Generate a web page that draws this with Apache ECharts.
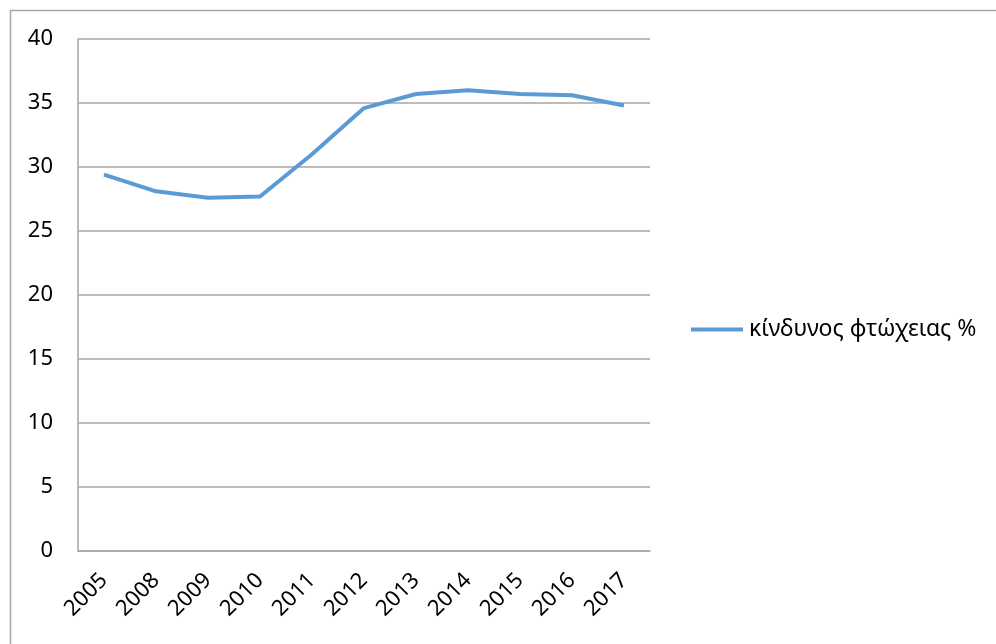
<!DOCTYPE html>
<html>
<head>
<meta charset="utf-8">
<script src="https://cdn.jsdelivr.net/npm/echarts@6/dist/echarts.min.js"></script>
<style>
  html, body { margin: 0; padding: 0; background: #fff; }
  #chart { width: 996px; height: 644px; }
</style>
</head>
<body>
<div id="chart"></div>
<script>
const years = ['2005', '2008', '2009', '2010', '2011', '2012', '2013', '2014', '2015', '2016', '2017']
const povertyRisk = [29.4, 28.1, 27.6, 27.7, 31.0, 34.6, 35.7, 36.0, 35.7, 35.6, 34.8]
const seriesName = 'κίνδυνος φτώχειας %'

const font = 'Noto Sans'
const chart = echarts.init(document.getElementById('chart'))

chart.setOption({
  animation: false,
  backgroundColor: '#fff',
  graphic: [{
    type: 'rect',
    left: 8, top: 8,
    shape: { width: 1100, height: 800 },
    style: { fill: 'none', stroke: '#a6a6a6', lineWidth: 1.5 },
    silent: true
  }],
  grid: { left: 78, right: 346, top: 39, bottom: 93 },
  legend: {
    left: 686, top: 313,
    icon: 'rect',
    itemWidth: 52, itemHeight: 4,
    textStyle: { fontFamily: font, fontSize: 23, color: '#000', padding: [0, 0, 0, 1] },
    data: [seriesName]
  },
  xAxis: {
    type: 'category',
    data: years,
    boundaryGap: true,
    axisLine: { lineStyle: { color: '#a6a6a6', width: 1.5 } },
    axisTick: { show: false },
    axisLabel: { rotate: 45, margin: 26, fontFamily: font, fontSize: 22, color: '#000' }
  },
  yAxis: {
    type: 'value',
    min: 0, max: 40, interval: 5,
    axisLine: { show: true, lineStyle: { color: '#a6a6a6', width: 1.5 } },
    axisTick: { show: false },
    splitLine: { lineStyle: { color: '#a6a6a6', width: 1.5 } },
    axisLabel: { margin: 25, fontFamily: font, fontSize: 22, color: '#000' }
  },
  series: [{
    name: seriesName,
    type: 'line',
    data: povertyRisk,
    symbol: 'none',
    lineStyle: { color: '#5b9bd5', width: 4 },
    itemStyle: { color: '#5b9bd5' }
  }]
})
</script>
</body>
</html>
